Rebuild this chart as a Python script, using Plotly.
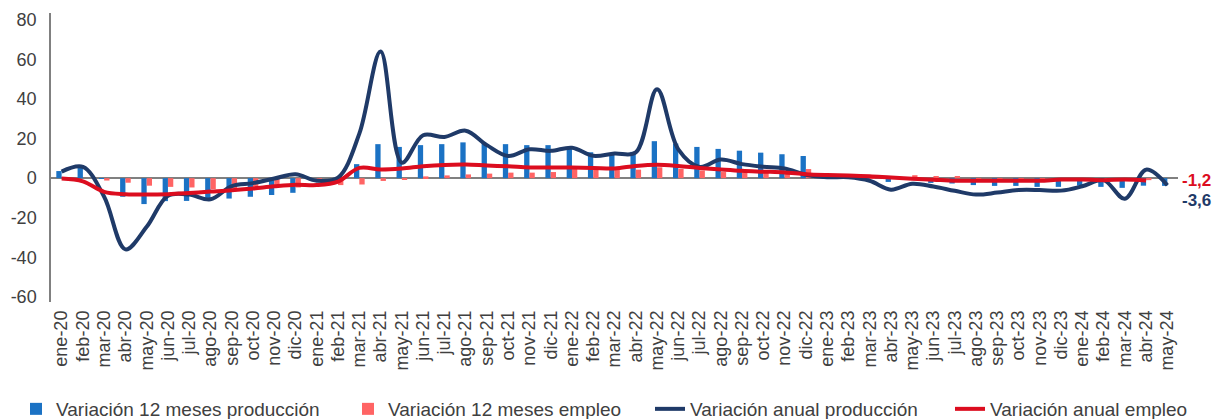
import plotly.graph_objects as go

months = ["ene-20","feb-20","mar-20","abr-20","may-20","jun-20","jul-20","ago-20","sep-20","oct-20","nov-20","dic-20",
          "ene-21","feb-21","mar-21","abr-21","may-21","jun-21","jul-21","ago-21","sep-21","oct-21","nov-21","dic-21",
          "ene-22","feb-22","mar-22","abr-22","may-22","jun-22","jul-22","ago-22","sep-22","oct-22","nov-22","dic-22",
          "ene-23","feb-23","mar-23","abr-23","may-23","jun-23","jul-23","ago-23","sep-23","oct-23","nov-23","dic-23",
          "ene-24","feb-24","mar-24","abr-24","may-24"]

# Variación 12 meses producción (bars)
prod_12m = [3.6, 5.3, -0.4, -9.4, -13.1, -11.6, -11.5, -10.6, -10.3, -9.4, -8.5, -7.4,
            0.0, 0.0, 7.1, 17.2, 15.8, 16.7, 17.2, 18.1, 17.8, 17.2, 16.7, 16.7,
            15.5, 13.1, 12.5, 13.3, 18.7, 17.5, 15.8, 14.8, 13.9, 12.9, 12.1, 11.2,
            0.2, 0.2, -0.3, -1.9, -0.5, -2.4, -2.7, -3.5, -3.9, -3.9, -4.4, -4.4,
            -3.8, -4.4, -4.9, -3.8, -3.9]

# Variación 12 meses empleo (bars)
emp_12m = [0.0, 0.0, -1.2, -2.3, -3.8, -4.4, -4.7, -5.5, -5.2, -4.7, -4.2, -4.7,
           -1.6, -3.5, -3.2, -1.4, -0.5, 0.9, 1.4, 1.9, 2.3, 2.8, 2.8, 3.1,
           4.8, 4.8, 4.5, 4.3, 5.5, 4.7, 3.9, 3.1, 3.8, 3.2, 2.2, 4.6,
           0.5, 0.5, 0.3, 0.2, 1.5, 1.1, 1.1, -1.0, -1.0, -1.0, -1.0, -0.8,
           -0.8, -1.0, -0.8, -1.0, None]

# Variación anual producción (line)
prod_anual = [3.3, 5.7, -9.4, -36.0, -24.6, -8.9, -8.3, -10.7, -4.0, -2.5, -0.2, 2.0,
              -1.3, 0.3, 22.5, 64.0, 7.8, 21.7, 20.8, 24.0, 16.7, 11.2, 14.6, 13.8,
              15.4, 11.3, 12.5, 13.0, 45.0, 14.6, 5.7, 9.4, 7.1, 5.8, 4.9, 1.7,
              0.5, 0.5, -1.3, -5.8, -2.8, -4.2, -6.4, -8.3, -7.3, -6.0, -6.0, -6.3,
              -4.1, -1.0, -10.4, 4.3, -3.6]

# Variación anual empleo (line)
emp_anual = [-0.2, -1.6, -6.9, -8.1, -8.3, -8.1, -7.5, -6.8, -6.1, -5.2, -4.1, -3.3,
             -3.5, -1.7, 5.2, 4.4, 4.9, 6.0, 6.7, 6.9, 6.4, 6.0, 5.4, 5.4,
             5.4, 5.2, 4.9, 6.2, 6.8, 6.2, 5.2, 4.4, 3.7, 3.3, 2.9, 2.0,
             1.6, 1.4, 1.0, 0.3, -0.3, -0.8, -1.3, -1.3, -1.3, -1.3, -1.3, -0.7,
             -0.7, -1.0, -0.7, -1.2, None]

y_ticks = [-60, -40, -20, 0, 20, 40, 60, 80]
y_ticktext = ["-60", "-40", "-20", "0", "20", "40", "60", "80"]

BLUE = "#1B72C4"
SALMON = "#FF6464"
NAVY = "#1F3A68"
RED = "#DC0D1F"
FONT = "Liberation Sans, Arial, sans-serif"
TXT = "#404040"

fig = go.Figure()
fig.add_trace(go.Bar(x=months, y=prod_12m, name="Variación 12 meses producción",
                     marker_color=BLUE, legend="legend2"))
fig.add_trace(go.Bar(x=months, y=emp_12m, name="Variación 12 meses empleo",
                     marker_color=SALMON, legend="legend3"))
fig.add_trace(go.Scatter(x=months, y=prod_anual, name="Variación anual producción", mode="lines",
                         line=dict(color=NAVY, width=4, shape="spline", smoothing=1.0), legend="legend4"))
fig.add_trace(go.Scatter(x=months, y=emp_anual, name="Variación anual empleo", mode="lines",
                         line=dict(color=RED, width=4, shape="spline", smoothing=1.0), legend="legend5"))

def last_valid(vals):
    return [v for v in vals if v is not None][-1]

def fmt(v):
    return f"{v:.1f}".replace(".", ",")

emp_last = last_valid(emp_anual)
prod_last = last_valid(prod_anual)
fig.add_annotation(xref="paper", yref="y", x=1.0, y=emp_last, xanchor="left", yanchor="middle",
                   xshift=2, text=f"<b>{fmt(emp_last)}</b>", showarrow=False,
                   font=dict(family=FONT, size=17, color=RED))
fig.add_annotation(xref="paper", yref="y", x=1.0, y=prod_last, yshift=-15, xshift=2,
                   xanchor="left", yanchor="middle",
                   text=f"<b>{fmt(prod_last)}</b>", showarrow=False,
                   font=dict(family=FONT, size=17, color=NAVY))

leg_common = dict(orientation="h", xref="container", yref="container", yanchor="top", y=1 - 390 / 419,
                  xanchor="left", font=dict(family=FONT, size=19, color=TXT), bgcolor="rgba(0,0,0,0)",
                  borderwidth=0)
fig.update_layout(
    template="none",
    width=1213, height=419,
    margin=dict(l=51, r=34.5, t=12.7, b=117, autoexpand=False),
    paper_bgcolor="white", plot_bgcolor="white",
    barmode="group", bargap=0.5, bargroupgap=0,
    font=dict(family=FONT, size=18, color=TXT),
    legend2=dict(x=16 / 1213, **leg_common),
    legend3=dict(x=348 / 1213, **leg_common),
    legend4=dict(x=650 / 1213, **leg_common),
    legend5=dict(x=950 / 1213, **leg_common),
    xaxis=dict(type="category", range=[-0.5, len(months) - 0.5], tickangle=-90, ticks="",
               tickmode="linear", tick0=0, dtick=1, automargin=False,
               showline=False, showgrid=False, zeroline=False, ticklabelstandoff=4,
               tickfont=dict(family=FONT, size=18, color=TXT)),
    yaxis=dict(range=[-62.6, 83.5], tickmode="array", tickvals=y_ticks, ticktext=y_ticktext,
               ticks="", showgrid=False, showline=True, linecolor="#808080", linewidth=1.5,
               zeroline=True, zerolinecolor="#808080", zerolinewidth=2, automargin=False,
               ticklabelstandoff=9,
               tickfont=dict(family=FONT, size=18, color=TXT)),
)

fig.write_html("out.html", config={"displayModeBar": False},
               post_script="document.body.style.margin='0';document.body.style.overflow='hidden';")
